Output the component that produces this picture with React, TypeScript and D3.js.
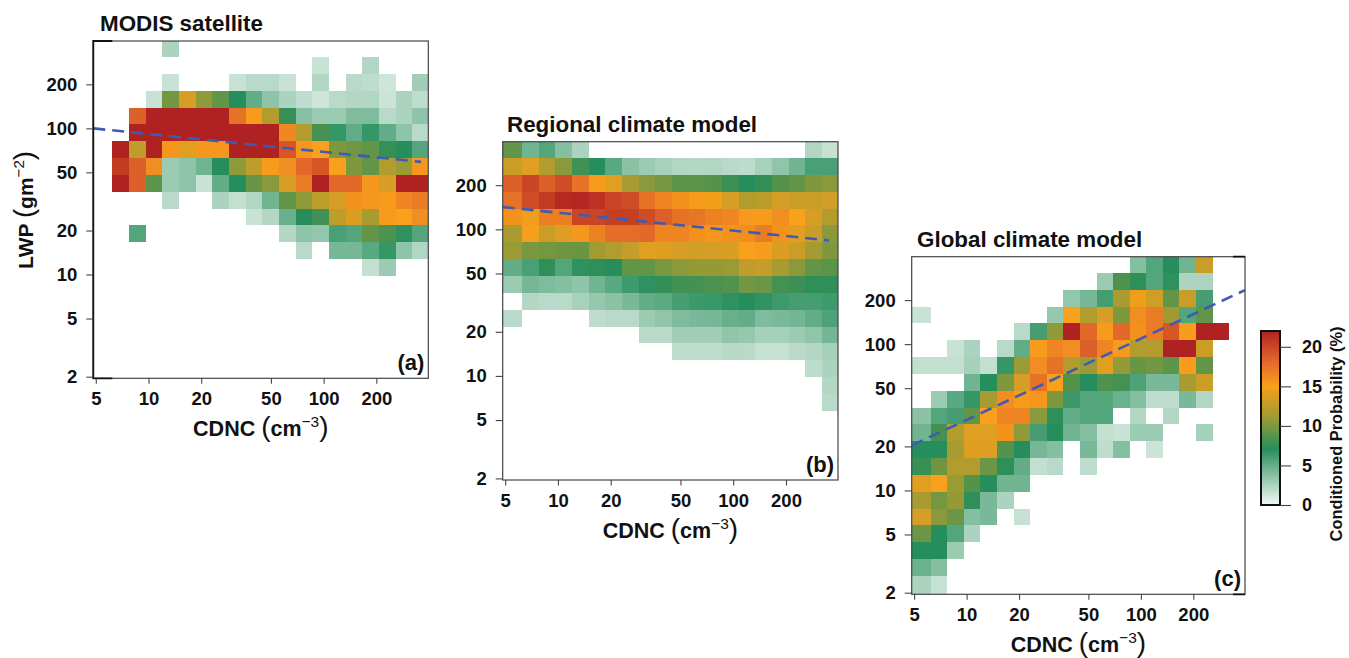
import React, { useEffect, useRef } from "react";
import * as d3 from "d3";

const xTicks = [5, 10, 20, 50, 100, 200];
const yTicks = [2, 5, 10, 20, 50, 100, 200];
const legendTicks = [0, 5, 10, 15, 20];

// conditioned probability per bin, top row first, 0 = empty bin
const modisRows = [
  [0,0,0,0,2.5,0,0,0,0,0,0,0,0,0,0,0,0,0,0,0],
  [0,0,0,0,0,0,0,0,0,0,0,0,0,1.5,0,0,2.2,0,0,0],
  [0,0,0,0,1.5,0,0,0,1.5,2,2,1.5,0,2.2,0,2,1.8,1.3,0,2.8],
  [0,0,0,1.5,9.5,13.5,10.5,9,7,5,3.5,2.5,1.8,1.3,2,2.2,2.3,1.4,2.5,1.8],
  [0,0,18.5,22,22,22,22,22,17.5,15.3,12,7.5,3.7,3,3,4,4,2,2.5,3.5],
  [0,0,22,22,22,22,22,22,22,22,22,16.3,12,8,6.5,5,6.5,5,3.5,2],
  [0,22,12.5,22,15.5,14,15.5,15.5,22,22,22,19,15.5,15,10,9.5,9,7.5,7,5.5],
  [0,20.5,18.5,16,3,3.5,4.5,7,10.5,12.5,15.3,16,18,19,15,10,9,12,11,15.5],
  [0,22,18.5,8.8,3,3.5,1.5,5,7,9.2,10.3,13.5,17,22,18,18,15.5,13.5,22,22],
  [0,0,0,0,2,0,0,2.5,1.7,2.3,4.5,9,10.5,12.5,13.5,15.8,15.5,15.3,16.5,17],
  [0,0,0,0,0,0,0,0,0,1.5,2.2,4.8,7,7.8,12.5,13.7,11.5,15.3,15,16],
  [0,0,5.5,0,0,0,0,0,0,0,0,2.2,3.5,3.3,5.8,5.5,9,8.3,6.8,5.5],
  [0,0,0,0,0,0,0,0,0,0,0,0,2,0,4.3,4.3,5.3,6.5,3.5,2.3],
  [0,0,0,0,0,0,0,0,0,0,0,0,0,0,0,0,1.7,3,0,0],
];

const regionalRows = [
  [9,4.5,5.5,3.8,2.5,0,0,0,0,0,0,0,0,0,0,0,0,0,2.3,1.6],
  [13,14,12,10.3,7.8,7,5.3,3.6,3,2.6,2.3,2.2,2.3,2,1.9,2.6,3.4,4.5,5.8,5.8],
  [18.5,20,18.5,19.5,17.5,15.3,14,11.5,10.3,9.7,8.8,8.8,8.5,7.7,7,7.4,8.5,9,10,10.3],
  [17.5,19.5,20.5,21.5,21.7,21,20,19.5,17.5,16.5,15.8,15.3,14.7,13.5,12,12.3,13.5,13,13,13.3],
  [15.7,14.6,16.8,16.8,20,20,20.3,20.3,19.5,18.5,17.5,17.3,16.7,16.4,15.4,15.3,16,15,13.5,12],
  [11.7,14.8,13,13.8,15.5,16.7,17.8,17.8,18,16.5,16.5,15.8,15.5,15.7,16,17,15.7,14,13,10.3],
  [11,9.8,9.6,9.4,9.2,11.3,12,12.8,14,13.8,13.5,13.3,13.5,13.7,15,15.2,13.7,13,11.4,10],
  [5,5.8,7.2,5.5,6.8,7.2,7,9,9,9.8,10.3,10.8,10.8,11,12.6,12.8,11.5,10.3,9,8.7],
  [3,4.3,4,3.8,3.5,4.5,5.3,6.2,6.8,7.4,7.8,8,8.2,8.4,9.5,9.3,8,7.7,7.2,7.2],
  [0,2.2,2,2,2.6,3.2,3.6,4.2,5,5.2,6,6.3,6.4,6.8,7,6.7,6.2,6,6,6.2],
  [2,0,0,0,0,1.8,2,2,3,3.4,4,4.2,4.3,4.8,5,4,4.2,4.4,5,5.7],
  [0,0,0,0,0,0,0,0,2,2,2.8,2.8,2.8,3.4,3.2,2.7,2.7,3,3.4,4.4],
  [0,0,0,0,0,0,0,0,0,0,1.8,1.8,1.8,2.1,2,1.6,1.6,2,2.2,2.7],
  [0,0,0,0,0,0,0,0,0,0,0,0,0,0,0,0,0,0,1.9,2.5],
  [0,0,0,0,0,0,0,0,0,0,0,0,0,0,0,0,0,0,0,2.2],
  [0,0,0,0,0,0,0,0,0,0,0,0,0,0,0,0,0,0,0,2],
];

const globalRows = [
  [0,0,0,0,0,0,0,0,0,0,0,0,0,3.8,5.5,7,4.5,13,0,0],
  [0,0,0,0,0,0,0,0,0,0,0,3,8.3,7.2,5.5,6.8,2.4,2.4,0,0],
  [0,0,0,0,0,0,0,0,0,3.3,4.3,6,11.7,14.5,13.2,9,13,6,0,0],
  [1.5,0,0,0,0,0,0,0,3.2,15,12,13.5,10,16,17,11.2,5.5,9,0,0],
  [0,0,0,0,0,0,2,6,10.5,22,18,15.3,18,15.8,17,19,15.2,22,22,0],
  [0,0,1.5,2.5,0,2,5,15.2,16.5,16,18.5,16.5,15.3,12,12,22,22,13,0,0],
  [1.7,1.7,1.7,2.7,1.7,6.5,11,16,17.5,12,11,14,10.7,9.2,9.5,8.8,15.2,9,0,0],
  [0,0,0,4.5,7,10,13.5,17.5,15,8.5,7,8.3,8,5.7,4.2,4.2,11.5,13,0,0],
  [0,3,5.3,6.5,11.5,16,15.3,15.5,10,6.3,5.5,5.5,4.7,3.8,1.8,1.8,4.2,2.3,0,0],
  [3.6,5.5,6,9,15,16.5,16.5,10.3,7.2,5,5.5,5.5,0,2.2,0,2.2,0,0,0,0],
  [4.5,8,12,14,14,15.7,10.5,6,7,4.5,3.8,1.7,1.5,3,3,0,0,2.7,0,0],
  [7,7,11.5,13.8,13.8,8.5,7,4.3,3.8,0,4.2,1.8,3.8,0,1.4,0,0,0,0,0],
  [7.6,9.4,12,12,9.3,7.2,5,1.7,2,0,1.8,0,0,0,0,0,0,0,0,0],
  [14,15,11,8.5,7,4.5,4.5,0,0,0,0,0,0,0,0,0,0,0,0,0],
  [11.5,9.6,10.8,7.2,4.2,2.5,0,0,0,0,0,0,0,0,0,0,0,0,0,0],
  [13.5,10.3,9.3,3.8,4.2,0,1.6,0,0,0,0,0,0,0,0,0,0,0,0,0],
  [9.3,7,5.5,2.5,0,0,0,0,0,0,0,0,0,0,0,0,0,0,0,0],
  [7,7,3,0,0,0,0,0,0,0,0,0,0,0,0,0,0,0,0,0],
  [4.7,3.8,0,0,0,0,0,0,0,0,0,0,0,0,0,0,0,0,0,0],
  [2.5,1.6,0,0,0,0,0,0,0,0,0,0,0,0,0,0,0,0,0,0],
];

// fitted lines, [CDNC, LWP] at both ends
const modisLine = [[4.84, 100], [360, 59]];
const regionalLine = [[4.84, 142], [352, 84]];
const globalLine = [[4.84, 20.3], [396, 234]];

const xDomain = [4.84, 396];
const yDomain = [1.95, 396];
const font = "'Liberation Sans', Arial, sans-serif";

const colorStops = [0, 7, 10.5, 15, 18, 22];
const colorValues = ["#f4f9f6", "#278e5b", "#8f9a38", "#f9a01b", "#e2692a", "#b02020"];
const color = d3.scaleLinear<string>().domain(colorStops).range(colorValues).clamp(true);

const panels = [
  { rows: modisRows, line: modisLine, title: "MODIS satellite", tag: "(a)", left: 93.3, right: 428.3, top: 41, bottom: 378.3, titleX: 100, titleY: 31, corners: "left" },
  { rows: regionalRows, line: regionalLine, title: "Regional climate model", tag: "(b)", left: 502.7, right: 838, top: 141.7, bottom: 480, titleX: 507, titleY: 132, corners: "" },
  { rows: globalRows, line: globalLine, title: "Global climate model", tag: "(c)", left: 911.7, right: 1245, top: 256.7, bottom: 594.3, titleX: 917, titleY: 247, corners: "right" },
];

// R style label: bold word, thin parens, small superscript
function unitLabel(sel, word, unit, exp, size) {
  sel.attr("font-family", font).attr("font-size", size).attr("fill", "#111");
  sel.append("tspan").attr("font-weight", "bold").text(word + " ");
  sel.append("tspan").attr("font-size", size * 1.3).text("(");
  sel.append("tspan").attr("font-weight", "bold").text(unit);
  sel.append("tspan").attr("font-size", size * 0.72).attr("dy", -size * 0.42).text(exp);
  sel.append("tspan").attr("font-size", size * 1.3).attr("dy", size * 0.42).text(")");
}

export default function App() {
  const svgRef = useRef<SVGSVGElement>(null);

  useEffect(() => {
    const svg = d3.select(svgRef.current);
    svg.selectAll("*").remove();

    const defs = svg.append("defs");
    defs
      .append("filter")
      .attr("id", "soft")
      .attr("filterUnits", "userSpaceOnUse")
      .attr("x", 0)
      .attr("y", 0)
      .attr("width", 1349)
      .attr("height", 658)
      .append("feGaussianBlur")
      .attr("stdDeviation", 0.55);

    panels.forEach((p) => {
      const x = d3.scaleLog().domain(xDomain).range([p.left, p.right]);
      const y = d3.scaleLog().domain(yDomain).range([p.bottom, p.top]);

      // 20 log spaced bins, 5-400 in CDNC and 2-400 in LWP
      const xBin = (i) => (i === 0 ? xDomain[0] : Math.min(5 * Math.pow(80, i / 20), xDomain[1]));
      const yBin = (i) => (i === 0 ? yDomain[0] : Math.min(2 * Math.pow(200, i / 20), yDomain[1]));

      const g = svg.append("g");
      const cells = g.append("g").attr("filter", "url(#soft)");
      p.rows.forEach((row, r) => {
        const yIndex = 19 - r;
        row.forEach((v, c) => {
          if (!v) return;
          const x0 = Math.round(x(xBin(c)));
          const x1 = Math.round(x(xBin(c + 1)));
          const y0 = Math.round(y(yBin(yIndex + 1)));
          const y1 = Math.round(y(yBin(yIndex)));
          cells
            .append("rect")
            .attr("x", x0)
            .attr("y", y0)
            .attr("width", x1 - x0)
            .attr("height", y1 - y0)
            .attr("fill", color(v));
        });
      });

      // fitted line
      const line = d3
        .line()
        .x((d) => x(d[0]))
        .y((d) => y(d[1]));
      g.append("path")
        .attr("d", line(p.line))
        .attr("fill", "none")
        .attr("stroke", "#3f5bb5")
        .attr("stroke-width", 2.6)
        .attr("stroke-dasharray", "12 7");

      // frame
      g.append("rect")
        .attr("x", p.left)
        .attr("y", p.top)
        .attr("width", p.right - p.left)
        .attr("height", p.bottom - p.top)
        .attr("fill", "none")
        .attr("stroke", "#444")
        .attr("stroke-width", 1.2);

      if (p.corners === "left") {
        const d = `M${p.left + 19},${p.top}H${p.left}V${p.bottom}H${p.left + 19}`;
        g.append("path").attr("d", d).attr("fill", "none").attr("stroke", "#111").attr("stroke-width", 1.8);
      }
      if (p.corners === "right") {
        const d = `M${p.right - 12},${p.top}H${p.right}M${p.right - 12},${p.bottom}H${p.right}`;
        g.append("path").attr("d", d).attr("fill", "none").attr("stroke", "#111").attr("stroke-width", 1.8);
      }

      // axes
      const xAxis = g
        .append("g")
        .attr("transform", `translate(0,${p.bottom})`)
        .call(d3.axisBottom(x).tickValues(xTicks).tickFormat(d3.format("d")).tickSize(5.5).tickPadding(8));
      const yAxis = g
        .append("g")
        .attr("transform", `translate(${p.left},0)`)
        .call(d3.axisLeft(y).tickValues(yTicks).tickFormat(d3.format("d")).tickSize(7).tickPadding(9));
      [xAxis, yAxis].forEach((a) => {
        a.select(".domain").remove();
        a.selectAll("line").attr("stroke", "#444").attr("stroke-width", 1.1);
        a.selectAll("text")
          .attr("font-family", font)
          .attr("font-size", 18.5)
          .attr("font-weight", "bold")
          .attr("fill", "#111");
      });

      g.append("text")
        .attr("x", p.titleX)
        .attr("y", p.titleY)
        .attr("font-family", font)
        .attr("font-size", 22.4)
        .attr("font-weight", "bold")
        .attr("fill", "#111")
        .text(p.title);

      g.append("text")
        .attr("x", p.right - 4)
        .attr("y", p.bottom - 8)
        .attr("text-anchor", "end")
        .attr("font-family", font)
        .attr("font-size", 22)
        .attr("font-weight", "bold")
        .attr("fill", "#111")
        .text(p.tag);

      g.append("text")
        .attr("x", (p.left + p.right) / 2)
        .attr("y", p.bottom + 58)
        .attr("text-anchor", "middle")
        .call(unitLabel, "CDNC", "cm", "\u22123", 21.5);
    });

    // y title, first panel only
    svg
      .append("text")
      .attr("transform", "translate(33,210) rotate(-90)")
      .attr("text-anchor", "middle")
      .call(unitLabel, "LWP", "gm", "\u22122", 21);

    // colour bar
    const legend = d3.scaleLinear().domain([0, 22]).range([505, 331]);
    const bar = svg.append("g");
    d3.range(0, 22, 0.25).forEach((v) => {
      bar
        .append("rect")
        .attr("x", 1261)
        .attr("y", Math.floor(legend(v + 0.25)))
        .attr("width", 19)
        .attr("height", Math.ceil(legend(v) - legend(v + 0.25)) + 1)
        .attr("fill", color(v));
    });
    bar
      .append("rect")
      .attr("x", 1261)
      .attr("y", 331)
      .attr("width", 19)
      .attr("height", 174)
      .attr("fill", "none")
      .attr("stroke", "#111")
      .attr("stroke-width", 2);
    const legendAxis = bar
      .append("g")
      .attr("transform", "translate(1280,0)")
      .call(d3.axisRight(legend).tickValues(legendTicks).tickFormat(d3.format("d")).tickSize(11).tickPadding(11));
    legendAxis.select(".domain").remove();
    legendAxis.selectAll("line").attr("stroke", "#444").attr("stroke-width", 1.1);
    legendAxis
      .selectAll("text")
      .attr("font-family", font)
      .attr("font-size", 18)
      .attr("font-weight", "bold")
      .attr("fill", "#111");

    svg
      .append("text")
      .attr("transform", "translate(1342,434) rotate(-90)")
      .attr("text-anchor", "middle")
      .attr("font-family", font)
      .attr("font-size", 16.4)
      .attr("font-weight", "bold")
      .attr("fill", "#111")
      .text("Conditioned Probability (%)");
  }, []);

  return (
    <svg
      ref={svgRef}
      width={1349}
      height={658}
      style={{ position: "absolute", left: 0, top: 0, background: "#fff" }}
    />
  );
}
